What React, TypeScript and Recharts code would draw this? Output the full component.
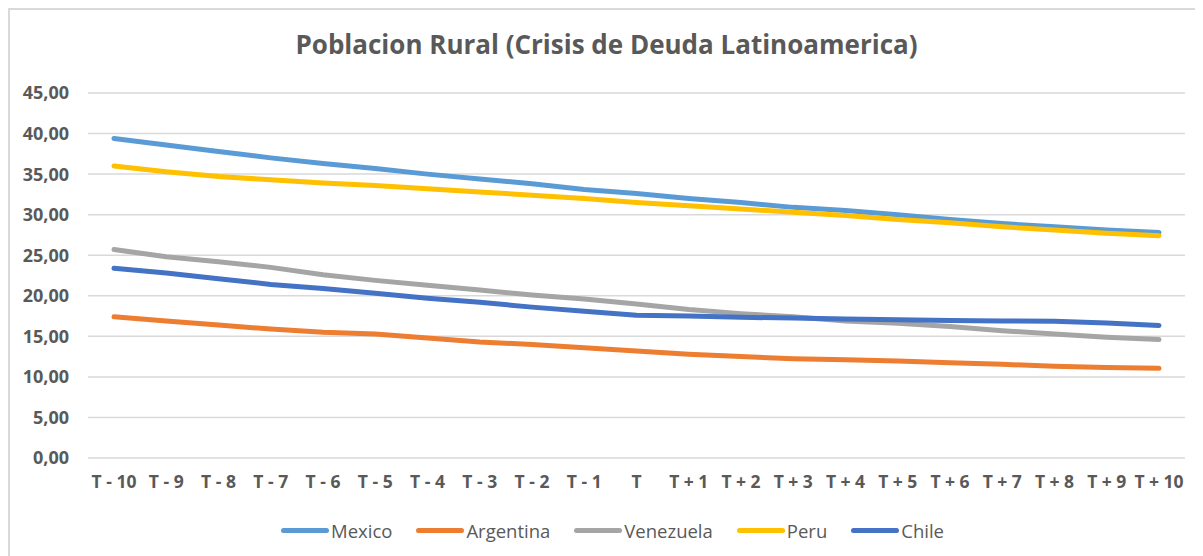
import { LineChart, Line, XAxis, YAxis, CartesianGrid, Legend } from "recharts";

const periods = [
  "T - 10", "T - 9", "T - 8", "T - 7", "T - 6", "T - 5", "T - 4", "T - 3", "T - 2", "T - 1", "T",
  "T + 1", "T + 2", "T + 3", "T + 4", "T + 5", "T + 6", "T + 7", "T + 8", "T + 9", "T + 10",
];

const mexico = [39.4, 38.6, 37.8, 37.0, 36.3, 35.7, 35.0, 34.4, 33.8, 33.1, 32.6, 32.0, 31.5, 30.9, 30.5, 30.0, 29.4, 28.9, 28.5, 28.1, 27.8];
const argentina = [17.4, 16.9, 16.4, 15.9, 15.5, 15.3, 14.8, 14.3, 14.0, 13.6, 13.2, 12.8, 12.5, 12.25, 12.1, 11.95, 11.75, 11.55, 11.3, 11.15, 11.05];
const venezuela = [25.7, 24.8, 24.2, 23.5, 22.6, 21.9, 21.3, 20.7, 20.1, 19.6, 19.0, 18.3, 17.8, 17.4, 16.9, 16.6, 16.2, 15.7, 15.3, 14.9, 14.6];
const peru = [36.0, 35.3, 34.7, 34.3, 33.9, 33.6, 33.2, 32.8, 32.4, 32.0, 31.5, 31.1, 30.7, 30.3, 29.9, 29.4, 29.0, 28.5, 28.1, 27.7, 27.4];
const chile = [23.4, 22.8, 22.1, 21.4, 20.9, 20.3, 19.7, 19.2, 18.6, 18.1, 17.6, 17.5, 17.35, 17.25, 17.15, 17.05, 16.95, 16.9, 16.85, 16.65, 16.35];

const yTicks = [0, 5, 10, 15, 20, 25, 30, 35, 40, 45];

const series = [
  { key: "Mexico", color: "#5B9BD5" },
  { key: "Argentina", color: "#ED7D31" },
  { key: "Venezuela", color: "#A5A5A5" },
  { key: "Peru", color: "#FFC000" },
  { key: "Chile", color: "#4472C4" },
];

const data = periods.map((p, i) => ({
  period: p,
  Mexico: mexico[i],
  Argentina: argentina[i],
  Venezuela: venezuela[i],
  Peru: peru[i],
  Chile: chile[i],
}));

const font = "'Open Sans', sans-serif";
const textColor = "#595959";

function LegendBox() {
  return (
    <div
      style={{
        height: 24,
        display: "flex",
        justifyContent: "center",
        alignItems: "center",
        paddingLeft: 12,
        fontFamily: font,
        fontSize: 18.5,
        fontWeight: 500,
        color: textColor,
      }}
    >
      {series.map((s) => (
        <div key={s.key} style={{ display: "flex", alignItems: "center", margin: "0 12px" }}>
          <div style={{ width: 48, height: 5, borderRadius: 3, background: s.color, marginRight: 2 }} />
          <span>{s.key}</span>
        </div>
      ))}
    </div>
  );
}

export default function App() {
  return (
    <div
      style={{
        position: "relative",
        width: 1195,
        height: 548,
        boxSizing: "border-box",
        borderTop: "2px solid #d9d9d9",
        borderLeft: "2px solid #d9d9d9",
        background: "#fff",
      }}
    >
      <div
        style={{
          position: "absolute",
          top: 16,
          left: 0,
          width: 1193,
          textAlign: "center",
          fontFamily: font,
          fontSize: 26,
          fontWeight: 700,
          color: textColor,
          zIndex: 1,
        }}
      >
        Poblacion Rural (Crisis de Deuda Latinoamerica)
      </div>
      <LineChart width={1193} height={546} data={data} margin={{ top: 83, right: 18, bottom: 14, left: 18 }}>
        <CartesianGrid vertical={false} stroke="#d9d9d9" strokeWidth={1.5} />
        <XAxis
          dataKey="period"
          axisLine={false}
          tickLine={false}
          tickSize={0}
          tickMargin={18}
          height={60}
          interval={0}
          padding={{ left: 26, right: 26 }}
          tick={{ fill: textColor, fontFamily: font, fontSize: 17.5, fontWeight: 700 }}
        />
        <YAxis
          domain={[0, 45]}
          ticks={yTicks}
          axisLine={false}
          tickLine={false}
          tickSize={0}
          tickMargin={19}
          width={60}
          tickFormatter={(v: number) => v.toFixed(2).replace(".", ",")}
          tick={{ fill: textColor, fontFamily: font, fontSize: 18, fontWeight: 700 }}
        />
        <Legend verticalAlign="bottom" content={() => <LegendBox />} wrapperStyle={{ left: 0, width: 1193 }} />
        {series.map((s) => (
          <Line
            key={s.key}
            dataKey={s.key}
            type="linear"
            stroke={s.color}
            strokeWidth={5}
            strokeLinecap="round"
            dot={false}
            activeDot={false}
            isAnimationActive={false}
          />
        ))}
      </LineChart>
    </div>
  );
}
